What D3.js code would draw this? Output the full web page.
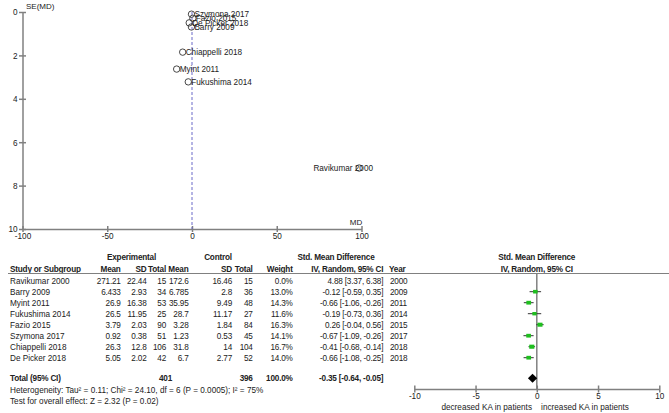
<!DOCTYPE html>
<html>
<head>
<meta charset="utf-8">
<script src="https://cdn.jsdelivr.net/npm/d3@7"></script>
<style>
  body { margin: 0; background: #fff; }
  svg { display: block; font-family: "Liberation Sans", Arial, sans-serif; }
  .t { font-size: 8.2px; fill: #222; }
  .b { font-weight: bold; letter-spacing: -0.2px; }
  .n { letter-spacing: -0.2px; }
  .ax path, .ax line { stroke: #808080; stroke-width: 1.5; }
  .ax text { font-size: 8.2px; fill: #222; font-family: "Liberation Sans", Arial, sans-serif; }
</style>
</head>
<body>
<div id="chart"></div>
<script>
// Forest + funnel plot (RevMan style)
const studies = ['Ravikumar 2000', 'Barry 2009', 'Myint 2011', 'Fukushima 2014', 'Fazio 2015', 'Szymona 2017', 'Chiappelli 2018', 'De Picker 2018'];
const expMean = ['271.21', '6.433', '26.9', '26.5', '3.79', '0.92', '26.3', '5.05'];
const expSD = ['22.44', '2.93', '16.38', '11.95', '2.03', '0.38', '12.8', '2.02'];
const expN = [15, 34, 53, 25, 90, 51, 106, 42];
const ctrlMean = ['172.6', '6.785', '35.95', '28.7', '3.28', '1.23', '31.8', '6.7'];
const ctrlSD = ['16.46', '2.8', '9.49', '11.17', '1.84', '0.53', '14', '2.77'];
const ctrlN = [15, 36, 48, 27, 84, 45, 104, 52];
const weights = [0.0, 13.0, 14.3, 11.6, 16.3, 14.1, 16.7, 14.0];
const smd = [4.88, -0.12, -0.66, -0.19, 0.26, -0.67, -0.41, -0.66];
const ciLo = [3.37, -0.59, -1.06, -0.73, -0.04, -1.09, -0.68, -1.08];
const ciHi = [6.38, 0.35, -0.26, 0.36, 0.56, -0.26, -0.14, -0.25];
const years = [2000, 2009, 2011, 2014, 2015, 2017, 2018, 2018];
const total = { expN: 401, ctrlN: 396, weight: 100.0, est: -0.35, lo: -0.64, hi: -0.05 };

// funnel plot points
const funnelMD = [98.6, -0.35, -9.05, -2.2, 0.51, -0.31, -5.5, -1.65];
const funnelSE = [7.19, 0.69, 2.63, 3.22, 0.29, 0.10, 1.85, 0.50];
const funnelPooledMD = 0;
const seTicks = [0, 2, 4, 6, 8, 10];
const mdTicks = [-100, -50, 0, 50, 100];
const forestTicks = [-10, -5, 0, 5, 10];

// plain hyphen minus, like the original
const loc = d3.formatLocale({ decimal: '.', thousands: ',', grouping: [3], currency: ['', ''], minus: '-' });
const f2 = loc.format('.2f');
const f1 = loc.format('.1f');
const fi = loc.format('d');

const W = 669, H = 413;
const svg = d3.select('#chart').append('svg').attr('width', W).attr('height', H);

// ---------- funnel plot ----------
const fx = d3.scaleLinear().domain([-100, 100]).range([22.5, 361.5]);
const fy = d3.scaleLinear().domain([0, 10]).range([12, 229]);

const yAx = svg.append('g').attr('class', 'ax')
    .attr('transform', `translate(${fx(-100)},0)`)
    .call(d3.axisLeft(fy).tickValues(seTicks).tickFormat(fi).tickSizeOuter(0));
yAx.selectAll('.tick line').attr('x1', -3.5).attr('x2', 3.5);
yAx.selectAll('.tick text').attr('x', -5).attr('dy', '0.35em');

const xAx = svg.append('g').attr('class', 'ax')
    .attr('transform', `translate(0,${fy(10)})`)
    .call(d3.axisBottom(fx).tickValues(mdTicks).tickFormat(fi).tickSizeOuter(0));
xAx.selectAll('.tick line').attr('y1', -3).attr('y2', 3);
xAx.selectAll('.tick text').attr('y', 4).attr('dy', '0.71em');

svg.append('text').attr('class', 't').attr('x', 26).attr('y', 9).style('font-size', '8px').text('SE(MD)');
svg.append('text').attr('class', 't').attr('x', 356).attr('y', 225).attr('text-anchor', 'middle').style('font-size', '8px').text('MD');

svg.append('line')
    .attr('x1', fx(funnelPooledMD)).attr('x2', fx(funnelPooledMD))
    .attr('y1', fy(0)).attr('y2', fy(10))
    .attr('stroke', '#6a6ac8').attr('stroke-width', 1).attr('stroke-dasharray', '3,2');

const pts = svg.append('g');
studies.forEach((s, i) => {
    const cx = fx(funnelMD[i]), cy = fy(funnelSE[i]);
    pts.append('circle').attr('cx', cx).attr('cy', cy).attr('r', 3.2)
        .attr('fill', 'none').attr('stroke', '#333').attr('stroke-width', 0.9);
    const lbl = pts.append('text').attr('class', 't').attr('y', cy).attr('dy', '0.35em').text(s);
    const len = lbl.node().getComputedTextLength();
    lbl.attr('x', Math.min(cx + 3, 373 - len));
});

// ---------- table ----------
const rowY = d3.scaleLinear().domain([0, 1]).range([283.7, 294.7]);
const tbl = svg.append('g');
function txt(x, y, s, anchor, cls) {
    return tbl.append('text').attr('class', 't' + (cls ? ' ' + cls : ''))
        .attr('x', x).attr('y', y).attr('text-anchor', anchor || 'start').text(s);
}
const col = { study: 10, em: 120.7, esd: 146.5, en: 166, cm: 188.5, csd: 232, cn: 252.7, w: 292.7, ci: 383.3, yr: 390 };

// header
txt(131.5, 259.5, 'Experimental', 'middle', 'b');
txt(218, 259.5, 'Control', 'middle', 'b');
txt(336, 259.5, 'Std. Mean Difference', 'middle', 'b');
txt(536.7, 259.5, 'Std. Mean Difference', 'middle', 'b');
txt(col.study, 271.5, 'Study or Subgroup', 'start', 'b');
txt(col.em, 271.5, 'Mean', 'end', 'b');
txt(col.esd, 271.5, 'SD', 'end', 'b');
txt(col.en, 271.5, 'Total', 'end', 'b');
txt(col.cm, 271.5, 'Mean', 'end', 'b');
txt(col.csd, 271.5, 'SD', 'end', 'b');
txt(col.cn, 271.5, 'Total', 'end', 'b');
txt(col.w, 271.5, 'Weight', 'end', 'b');
txt(col.ci, 271.5, 'IV, Random, 95% CI', 'end', 'b');
txt(col.yr - 1, 271.5, 'Year', 'start', 'b');
txt(536.7, 271.5, 'IV, Random, 95% CI', 'middle', 'b');
tbl.append('line').attr('x1', 8).attr('x2', 669).attr('y1', 273.5).attr('y2', 273.5)
    .attr('stroke', '#808080').attr('stroke-width', 1.2);

studies.forEach((s, i) => {
    const y = rowY(i);
    txt(col.study, y, s);
    txt(col.em, y, expMean[i], 'end', 'n');
    txt(col.esd, y, expSD[i], 'end', 'n');
    txt(col.en, y, expN[i], 'end', 'n');
    txt(col.cm, y, ctrlMean[i], 'end', 'n');
    txt(col.csd, y, ctrlSD[i], 'end', 'n');
    txt(col.cn, y, ctrlN[i], 'end', 'n');
    txt(col.w, y, f1(weights[i]) + '%', 'end', 'n');
    txt(col.ci, y, `${f2(smd[i])} [${f2(ciLo[i])}, ${f2(ciHi[i])}]`, 'end', 'n');
    txt(col.yr, y, years[i], 'start', 'n');
});

const totY = 381.3;
txt(col.study, totY, 'Total (95% CI)', 'start', 'b');
txt(col.en + 6, totY, total.expN, 'end', 'b');
txt(col.cn, totY, total.ctrlN, 'end', 'b');
txt(col.w, totY, f1(total.weight) + '%', 'end', 'b');
txt(col.ci, totY, `${f2(total.est)} [${f2(total.lo)}, ${f2(total.hi)}]`, 'end', 'b');
txt(col.study, 392.7, 'Heterogeneity: Tau\u00b2 = 0.11; Chi\u00b2 = 24.10, df = 6 (P = 0.0005); I\u00b2 = 75%');
txt(col.study, 403.5, 'Test for overall effect: Z = 2.32 (P = 0.02)');

// ---------- forest plot ----------
const gx = d3.scaleLinear().domain([-10, 10]).range([414.3, 659.3]);
const axisY = 389;

svg.append('line').attr('x1', gx(0)).attr('x2', gx(0)).attr('y1', 273.5).attr('y2', axisY)
    .attr('stroke', '#808080').attr('stroke-width', 1.5);

const fAx = svg.append('g').attr('class', 'ax')
    .attr('transform', `translate(0,${axisY})`)
    .call(d3.axisBottom(gx).tickValues(forestTicks).tickFormat(fi).tickSizeOuter(0));
fAx.select('.domain').attr('stroke', '#333').attr('stroke-width', 1);
fAx.selectAll('.tick line').attr('y1', -3.5).attr('y2', 3.5).attr('stroke', '#333').attr('stroke-width', 1);
fAx.selectAll('.tick text').attr('y', 4).attr('dy', '0.71em');

svg.append('text').attr('class', 't').attr('x', 486.7).attr('y', 409.5).attr('text-anchor', 'middle').text('decreased KA in patients');
svg.append('text').attr('class', 't').attr('x', 585).attr('y', 409.5).attr('text-anchor', 'middle').text('increased KA in patients');

const fg = svg.append('g');
studies.forEach((s, i) => {
    if (weights[i] <= 0) return;
    const y = rowY(i) - 3;
    fg.append('line').attr('x1', gx(ciLo[i])).attr('x2', gx(ciHi[i])).attr('y1', y).attr('y2', y)
        .attr('stroke', '#333').attr('stroke-width', 1);
    const side = Math.sqrt(weights[i]) * 1.25;
    fg.append('rect').attr('x', gx(smd[i]) - side / 2).attr('y', y - side * 0.4)
        .attr('width', side).attr('height', side * 0.8).attr('fill', '#1fbf1f');
});

const dy = totY - 3;
fg.append('path')
    .attr('d', `M${gx(total.lo) - 1},${dy} L${gx(total.est)},${dy - 4.5} L${gx(total.hi) + 1},${dy} L${gx(total.est)},${dy + 4.5} Z`)
    .attr('fill', '#000');
</script>
</body>
</html>
